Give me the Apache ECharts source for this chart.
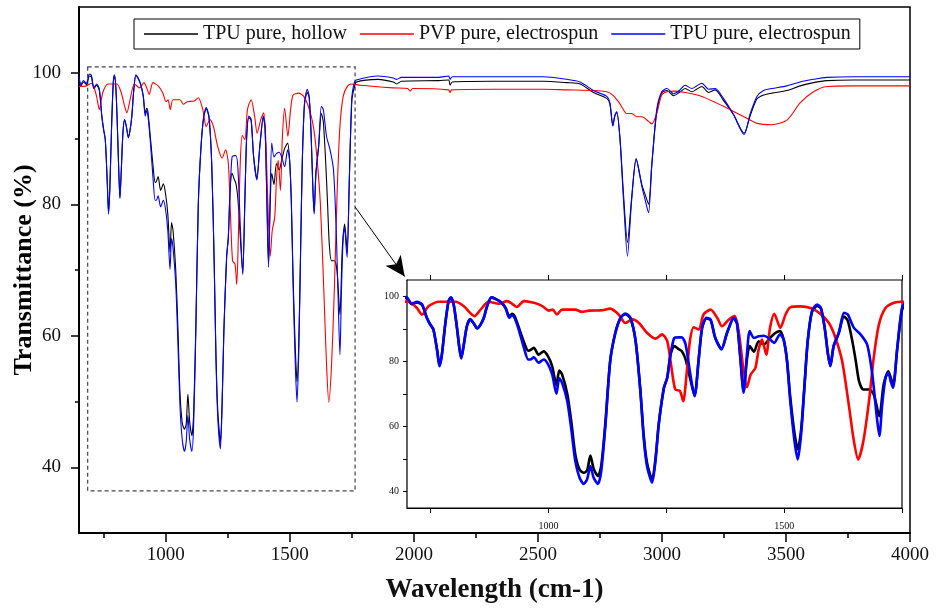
<!DOCTYPE html>
<html><head><meta charset="utf-8">
<script src="https://cdn.jsdelivr.net/npm/echarts@6/dist/echarts.min.js"></script>
<style>html,body{margin:0;padding:0;background:#fff}#c{width:936px;height:610px}</style>
</head><body><div id="c"></div>
<script>
const seriesNames = ['TPU pure, hollow', 'PVP pure, electrospun', 'TPU pure, electrospun'];

const hollowX = [650,658,668,680,692,700,710,721,732,742,749,756,764,769,774,781,788,793,799,806,811,815,820,827,834,841,849,856,863,870,879,887,898,909,917,923,928,937,948,957,962,969,979,990,999,1008,1017,1023,1029,1040,1049,1057,1066,1075,1082,1089,1096,1105,1112,1121,1131,1142,1153,1163,1174,1185,1195,1202,1209,1220,1227,1234,1245,1252,1259,1267,1276,1283,1291,1301,1310,1319,1326,1335,1344,1354,1367,1379,1393,1400,1407,1414,1421,1427,1436,1446,1457,1467,1479,1491,1499,1506,1513,1522,1529,1536,1543,1550,1559,1570,1578,1586,1593,1598,1605,1616,1627,1635,1645,1652,1659,1668,1680,1690,1702,1711,1721,1731,1740,1750,1760,1768,1856,1917,1930,1950,2100,2140,2146,2155,2321,2522,2616,2670,2724,2778,2790,2802,2810,2818,2831,2845,2861,2878,2896,2919,2932,2946,2959,2979,2999,3020,3047,3070,3094,3121,3140,3161,3188,3215,3248,3289,3331,3356,3383,3410,3443,3504,3557,3611,3665,3772,4000];
const hollowY = [99.2,98.0,98.6,98.2,99.5,99.4,97.6,98.1,97.3,93.4,91.5,89.8,83.4,78.8,82.1,91.3,98.4,99.5,97.5,90.3,84.3,81.0,84.7,90.8,92.9,91.8,90.2,91.3,93.4,97.0,99.6,99.2,98.3,96.5,93.8,94.6,94.0,90.5,86.0,83.3,83.5,84.2,82.1,83.1,81.6,78.5,72.7,77.2,76.0,70.0,61.0,51.4,46.8,45.8,46.5,51.1,47.0,44.8,48.0,61.5,80.1,88.8,93.4,94.5,93.2,86.2,71.2,57.5,49.0,43.8,50.0,60.8,71.9,75.0,82.1,84.7,83.8,83.1,80.6,74.5,69.5,81.1,90.3,93.2,92.7,87.2,83.9,88.8,93.2,91.6,81.5,70.9,80.5,84.7,83.0,86.2,85.2,86.7,88.5,89.3,86.7,80.5,69.0,58.0,53.0,59.0,72.5,86.2,95.2,97.0,96.2,90.3,82.3,78.8,84.7,88.8,93.8,92.5,86.0,80.1,73.9,71.4,71.4,69.9,63.2,72.9,77.0,72.9,84.0,95.8,97.8,98.6,99.0,98.6,98.3,98.7,98.8,98.9,98.1,98.6,98.7,98.7,98.5,98.3,97.0,96.1,95.3,92.0,93.4,94.0,90.0,81.5,74.2,81.0,86.9,83.0,81.5,80.0,86.0,94.0,96.9,97.3,96.5,97.0,97.6,97.1,97.5,97.9,97.0,97.4,95.8,93.6,90.8,93.5,96.0,96.6,96.9,97.3,98.0,98.5,98.8,98.9,98.9];

const pvpX = [650,680,700,710,721,732,746,767,803,820,834,843,856,873,895,912,923,933,948,969,987,1001,1009,1018,1029,1057,1071,1086,1114,1131,1149,1163,1178,1192,1209,1227,1241,1252,1260,1269,1279,1286,1293,1300,1308,1319,1329,1344,1358,1368,1383,1395,1404,1414,1421,1429,1439,1446,1453,1462,1470,1479,1492,1503,1513,1535,1556,1577,1595,1609,1623,1637,1648,1657,1668,1680,1690,1701,1715,1733,1750,1783,1917,1975,1985,1995,2140,2146,2152,2321,2522,2616,2724,2778,2802,2818,2832,2858,2878,2899,2919,2946,2959,2979,2999,3020,3047,3094,3161,3248,3289,3331,3383,3443,3504,3557,3611,3665,3772,4000];
const pvpY = [97.9,98.0,98.4,97.8,96.4,94.4,97.0,98.3,98.3,97.0,94.9,93.9,95.9,98.3,97.7,98.5,97.7,96.7,98.5,98.0,97.0,95.6,95.9,94.4,95.9,95.9,95.2,95.6,95.7,96.2,94.4,91.8,92.9,91.8,88.8,87.0,88.3,86.2,79.1,71.4,70.9,67.8,76.0,86.2,90.5,89.8,94.4,95.9,93.4,90.8,92.9,93.9,88.8,77.0,72.1,76.0,78.0,83.7,86.7,82.1,90.3,94.6,90.3,94.4,96.6,96.9,96.4,94.6,91.8,87.2,80.1,66.8,55.5,49.9,55.5,67.8,81.1,91.3,96.4,98.0,98.3,98.1,97.7,97.6,97.2,97.6,97.4,97.0,97.4,97.5,97.5,97.4,97.3,97.1,96.6,95.9,95.2,93.8,93.8,93.3,93.3,92.6,92.2,93.8,96.6,97.1,97.2,97.0,96.4,94.9,94.1,93.3,92.3,92.1,92.8,95.4,97.1,97.9,98.0,98.0];

const spunX = [650,658,668,680,692,700,710,721,732,742,749,756,764,769,774,781,788,793,799,806,811,815,820,827,834,841,849,856,863,870,879,887,898,909,917,923,928,937,948,957,962,969,979,990,999,1008,1017,1023,1029,1040,1049,1057,1066,1075,1082,1089,1096,1105,1112,1121,1131,1142,1153,1163,1174,1185,1195,1202,1209,1220,1227,1234,1245,1252,1259,1267,1276,1283,1291,1301,1310,1319,1326,1335,1344,1354,1367,1379,1393,1400,1407,1414,1421,1427,1436,1446,1457,1467,1479,1491,1499,1506,1513,1522,1529,1536,1543,1550,1559,1570,1578,1586,1593,1598,1605,1616,1627,1635,1648,1662,1676,1687,1696,1702,1708,1715,1721,1726,1731,1740,1750,1760,1768,1856,1917,1930,1950,2100,2140,2146,2155,2321,2522,2616,2670,2724,2778,2790,2802,2810,2818,2831,2845,2861,2878,2896,2919,2932,2946,2959,2979,2999,3020,3047,3070,3094,3121,3140,3161,3188,3215,3248,3289,3331,3356,3383,3410,3443,3504,3557,3611,3665,3772,4000];
const spunY = [99.4,98.2,98.8,98.4,99.8,99.6,97.7,98.3,97.5,93.4,91.3,89.8,83.2,78.5,82.1,91.3,98.5,99.7,97.5,90.3,84.2,80.9,84.7,90.8,92.9,91.8,90.1,91.3,93.4,97.0,99.7,99.3,98.3,96.4,93.4,94.2,93.4,89.8,84.2,80.6,80.6,81.3,79.6,80.6,79.2,76.0,70.1,74.8,73.4,67.8,58.6,49.4,44.3,42.4,43.8,47.9,44.3,42.4,46.3,60.6,80.1,88.8,93.4,94.7,93.4,86.2,70.9,56.6,47.9,42.8,49.4,60.6,71.9,75.0,82.1,87.2,87.4,87.4,85.2,76.0,69.3,81.1,90.3,93.4,92.9,87.2,83.7,88.8,93.4,91.8,81.1,70.4,82.1,89.3,87.2,87.7,87.9,87.2,85.7,88.3,86.7,80.1,67.8,55.5,49.9,57.6,71.9,86.2,95.4,97.5,96.4,90.3,82.1,78.5,84.7,88.8,94.9,94.4,90.3,88.3,85.2,76.0,63.7,57.1,66.8,75.0,76.5,73.9,71.9,84.2,96.4,98.5,98.9,99.5,99.2,99.0,99.3,99.3,99.5,99.0,99.4,99.4,99.4,99.0,98.6,97.3,96.4,95.5,91.9,93.5,94.1,89.8,80.7,72.1,80.7,86.9,82.7,80.7,78.7,85.8,94.4,97.1,97.6,96.8,97.3,98.1,97.6,98.0,98.4,97.5,97.6,96.1,93.6,90.6,93.8,96.4,97.3,97.6,98.0,98.6,99.0,99.3,99.4,99.4];

const xMajorTicks = [1000,1500,2000,2500,3000,3500,4000];
const xMinorTicks = [750,1250,1750,2250,2750,3250,3750];
const yMajorTicks = [40,60,80,100];
const yMinorTicks = [50,70,90];
const insetXTicks = [750,1000,1250,1500,1750];
const insetXLabels = [1000,1500];
const insetYTicks = [40,50,60,70,80,90,100];
const insetYLabels = [40,60,80,100];

const zoomBox = [[685,100.9],[1763,36.4]];
const arrowLine = [[1763,79.6],[1963,69.0]];

const colors = ['#000000','#ff0000','#0000ff'];
const FONT = "'Liberation Serif','Times New Roman',serif";
const plain = v => String(v);

function pairs(xs, ys){ return xs.map((x,i)=>[x, ys[i]]); }
const datasets = [pairs(hollowX,hollowY), pairs(pvpX,pvpY), pairs(spunX,spunY)];

const chart = echarts.init(document.getElementById('c'), null, {renderer:'canvas'});

const series = [];
datasets.forEach((d,i)=>{
  series.push({name:seriesNames[i], type:'line', xAxisIndex:0, yAxisIndex:0, data:d, symbol:'none', smooth:0.25,
    lineStyle:{color:colors[i], width:1.1}, itemStyle:{color:colors[i]}, z:2+i});
});
datasets.forEach((d,i)=>{
  series.push({name:seriesNames[i], type:'line', xAxisIndex:2, yAxisIndex:2, data:d, symbol:'none', smooth:0.25, clip:true,
    lineStyle:{color:colors[i], width:2.6}, itemStyle:{color:colors[i]}, z:6+i});
});
series.push({type:'line', xAxisIndex:0, yAxisIndex:0, data:[], silent:true,
  markArea:{silent:true, label:{show:false}, itemStyle:{color:'rgba(0,0,0,0)', borderColor:'#444', borderWidth:1.2, borderType:[4,3]},
    data:[[{coord:zoomBox[0]},{coord:zoomBox[1]}]]},
  markLine:{silent:true, symbol:['none','arrow'], symbolSize:[14,20], label:{show:false},
    lineStyle:{color:'#000', width:1, type:'solid'},
    data:[[{coord:arrowLine[0]},{coord:arrowLine[1]}]]}
});

chart.setOption({
  animation:false,
  backgroundColor:'#fff',
  legend:{data:seriesNames, left:134, top:19, orient:'horizontal', borderColor:'#000', borderWidth:1,
    padding:[5,9,5,10], itemGap:13, itemWidth:54, itemHeight:1.6, icon:'rect',
    textStyle:{fontFamily:FONT, fontSize:20, color:'#111'}},
  grid:[
    {left:79, top:7, right:26, bottom:77, show:true, borderColor:'#000', borderWidth:1.5, backgroundColor:'transparent', outerBoundsMode:'none'},
    {left:407, top:280, right:34, bottom:102, show:true, borderColor:'#000', borderWidth:1.2, backgroundColor:'#fff', outerBoundsMode:'none', z:3}
  ],
  xAxis:[
    {gridIndex:0, type:'value', min:650, max:4000, position:'bottom',
      axisLine:{show:true, lineStyle:{color:'#000', width:2}},
      axisTick:{show:true, customValues:xMajorTicks, length:9, lineStyle:{color:'#000', width:1.5}},
      axisLabel:{show:true, customValues:xMajorTicks, formatter:plain, margin:13, fontFamily:FONT, fontSize:19, color:'#111'},
      splitLine:{show:false},
      name:'Wavelength (cm-1)', nameLocation:'middle', nameGap:44, nameMoveOverlap:false,
      nameTextStyle:{fontFamily:FONT, fontSize:27, fontWeight:700, color:'#111'}},
    {gridIndex:0, type:'value', min:650, max:4000, position:'bottom',
      axisLine:{show:false}, axisTick:{show:true, customValues:xMinorTicks, length:5, lineStyle:{color:'#000', width:1.5}},
      axisLabel:{show:false}, splitLine:{show:false}},
    {gridIndex:1, type:'value', min:700, max:1750, position:'bottom',
      axisLine:{show:true, lineStyle:{color:'#000', width:1.2}},
      axisTick:{show:true, customValues:insetXTicks, length:5, lineStyle:{color:'#000', width:1}},
      axisLabel:{show:true, customValues:insetXLabels, formatter:plain, margin:13, fontFamily:FONT, fontSize:10, color:'#111'},
      splitLine:{show:false}},
    {gridIndex:1, type:'value', min:700, max:1750, position:'top',
      axisLine:{show:true, lineStyle:{color:'#000', width:1.2}},
      axisTick:{show:true, customValues:insetXTicks, length:5, lineStyle:{color:'#000', width:1}},
      axisLabel:{show:false}, splitLine:{show:false}}
  ],
  yAxis:[
    {gridIndex:0, type:'value', min:30, max:110, position:'left',
      axisLine:{show:true, lineStyle:{color:'#000', width:2}},
      axisTick:{show:true, customValues:yMajorTicks, length:8, lineStyle:{color:'#000', width:1.5}},
      axisLabel:{show:true, customValues:yMajorTicks, formatter:plain, margin:18, fontFamily:FONT, fontSize:19, color:'#111'},
      splitLine:{show:false},
      name:'Transmittance (%)', nameLocation:'middle', nameGap:42, nameRotate:90, nameMoveOverlap:false,
      nameTextStyle:{fontFamily:FONT, fontSize:26, fontWeight:700, color:'#000'}},
    {gridIndex:0, type:'value', min:30, max:110, position:'left',
      axisLine:{show:false}, axisTick:{show:true, customValues:yMinorTicks, length:4, lineStyle:{color:'#000', width:1.5}},
      axisLabel:{show:false}, splitLine:{show:false}},
    {gridIndex:1, type:'value', min:35, max:105, position:'left',
      axisLine:{show:true, lineStyle:{color:'#000', width:1.2}},
      axisTick:{show:true, customValues:insetYTicks, length:4, lineStyle:{color:'#000', width:1}},
      axisLabel:{show:true, customValues:insetYLabels, formatter:plain, margin:8, fontFamily:FONT, fontSize:10, color:'#111'},
      splitLine:{show:false}}
  ],
  series:series
});
</script></body></html>
